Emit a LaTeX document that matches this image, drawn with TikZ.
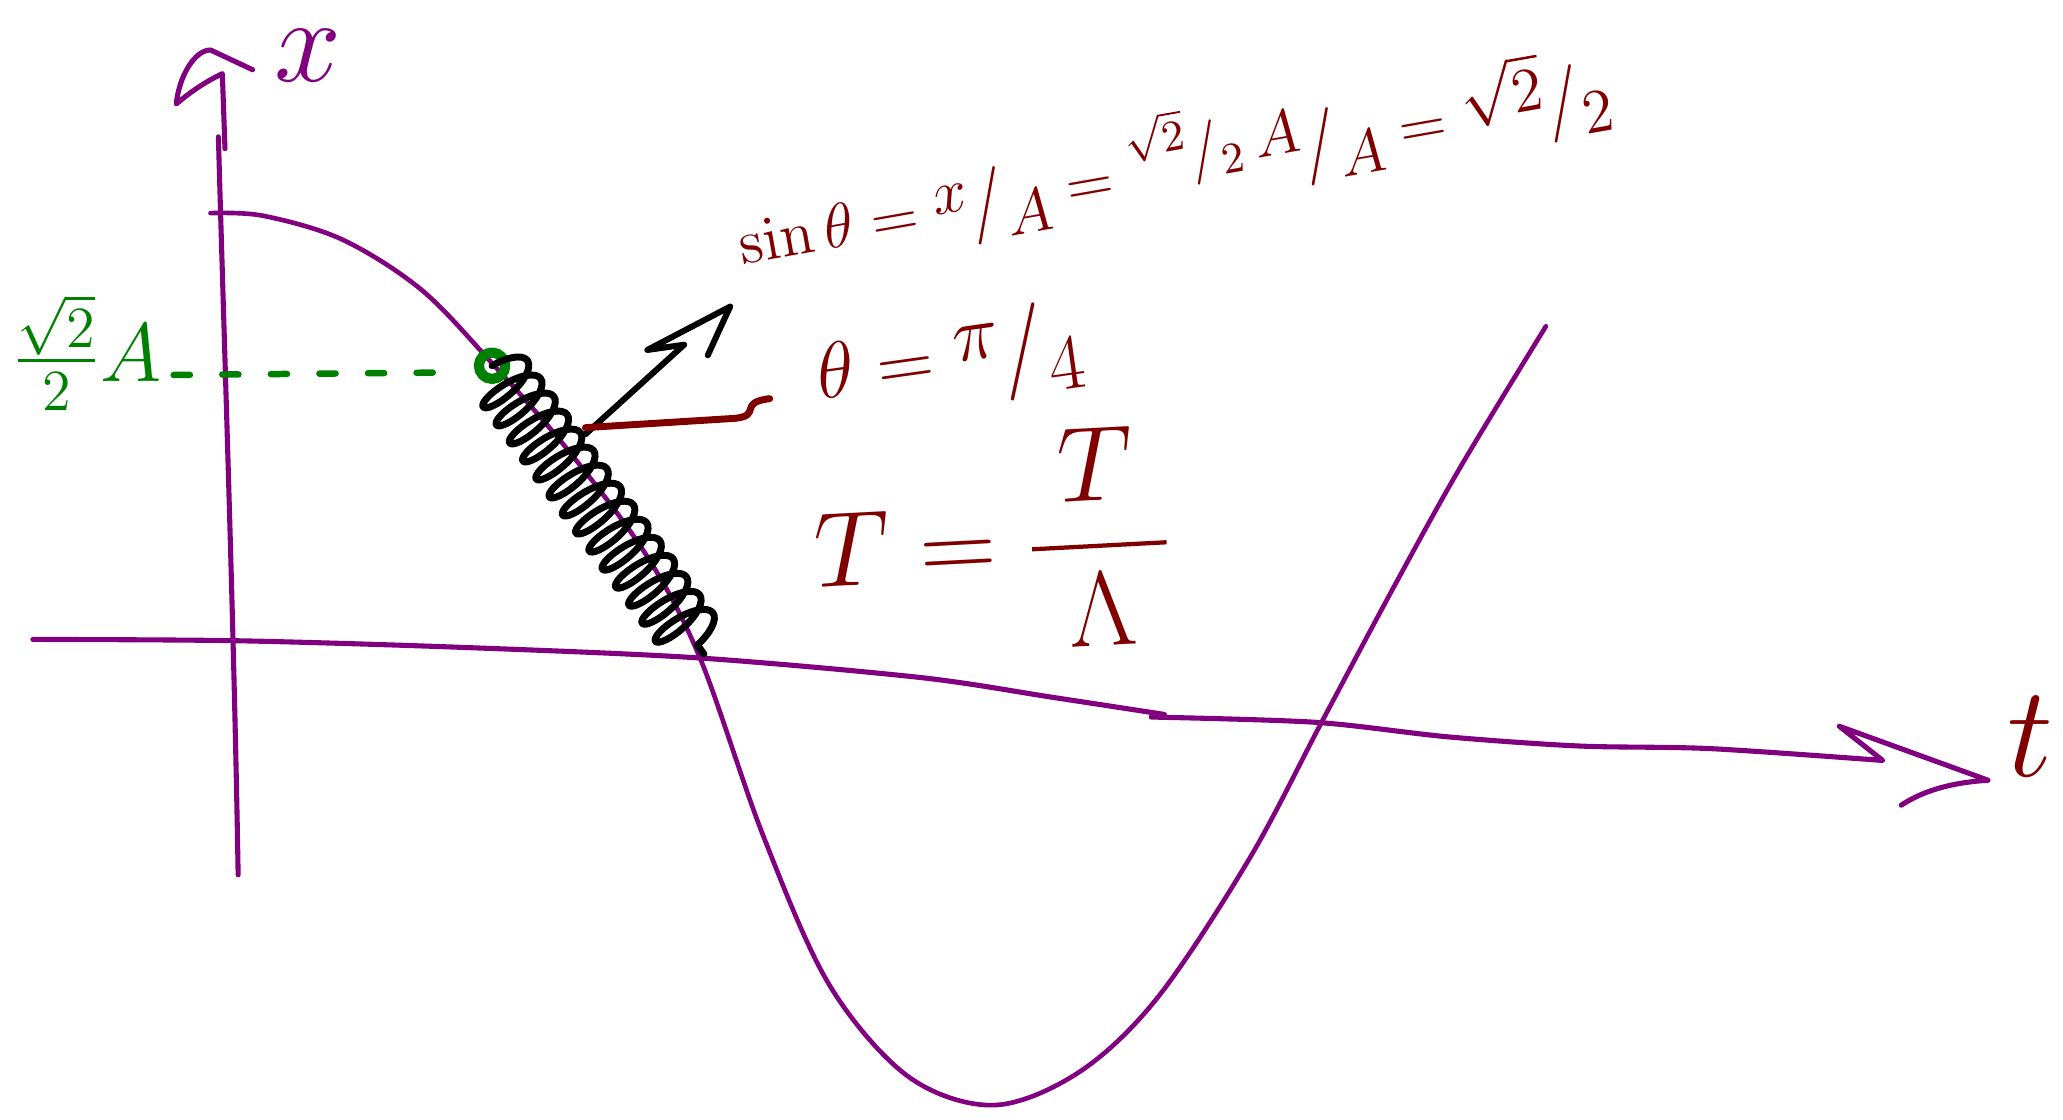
\RequirePackage{fix-cm}
\documentclass[tikz,border=0pt]{standalone}
\usepackage{amsmath,amssymb}
\usetikzlibrary{decorations.pathmorphing}
\definecolor{sketchpurple}{RGB}{128,0,128}
\definecolor{darkred}{RGB}{128,0,0}
\definecolor{sketchgreen}{RGB}{0,128,0}
\newcommand{\slfrac}[2]{\raisebox{0.55ex}{$#1$}\big/\raisebox{-0.7ex}{$#2$}}

\begin{document}
\begin{tikzpicture}[x=0.01cm,y=-0.01cm,line cap=round,line join=round,inner sep=1pt]
        \useasboundingbox (0,0) rectangle (1568,851);
        % axes
        \draw[sketchpurple,line width=1.1pt] (181,665) .. controls (178,480) and (170,250) .. (166,104);
        \draw[sketchpurple,line width=1.1pt] (171,113) -- (169,56) .. controls (152,64) and (140,74) .. (134,79) .. controls (136,58) and (148,38) .. (160,38) -- (192,53);
        \node[sketchpurple,font=\fontsize{26}{28}\selectfont] (xlabel) at (234,42) {$x$};
        \draw[sketchpurple,line width=1.1pt] plot[smooth] coordinates {(25,486) (180,487) (350,492) (530,500) (700,515) (800,530) (885,543)};
        \draw[sketchpurple,line width=1.1pt] plot[smooth] coordinates {(875,545) (1000,549) (1100,560) (1200,567) (1300,569) (1431,578)} -- (1398,552) -- (1511,593) .. controls (1482,595) and (1462,601) .. (1445,612);
        \node[darkred,font=\fontsize{28}{30}\selectfont] (tlabel) at (1543,560) {$t$};
        % the curve
        \draw[sketchpurple,line width=1pt] plot[smooth,tension=0.55] coordinates {(160,162) (200,164) (260,182) (320,220) (373,275) (430,340) (490,420) (532,500) (580,635) (630,748) (690,818) (755,840) (820,815) (880,758) (950,652) (1005,548) (1060,445) (1110,355) (1175,248)};
        \coordinate (P) at (374,278);
        \coordinate (Z) at (535,497);
        % amplitude mark
        \draw[sketchgreen,line width=1.4pt,dash pattern=on 3.5pt off 7pt] (132,285) -- (352,283);
        \draw[sketchgreen,line width=2.2pt] (P) circle (10);
        \node[sketchgreen,font=\fontsize{18}{20}\selectfont] (amp) at (66,268) {$\frac{\sqrt{2}}{2}A$};
        % spring and arrows
        \draw[line width=1.5pt,decorate,decoration={coil,amplitude=0.24cm,segment length=0.17cm,aspect=0.35}] (P) -- (Z);
        \draw[line width=1.3pt] (445,330) -- (520,262) -- (492,266) -- (555,233) .. controls (548,248) .. (538,270);
        \draw[darkred,line width=1.5pt] (445,325) -- (558,318) .. controls (580,316) and (560,306) .. (585,303);
        % formulas
        \node[darkred,rotate=10,font=\fontsize{13.5}{16}\selectfont] (sinline) at (892,122) {$\sin\theta=\slfrac{x}{A}=\slfrac{{}^{\sqrt{2}}/{}_{2}\,A}{A}=\slfrac{\sqrt{2}}{2}$};
        \node[darkred,rotate=8,font=\fontsize{17}{20}\selectfont] (thetaline) at (722,275) {$\theta=\slfrac{\pi}{4}$};
        \node[darkred,rotate=3,font=\fontsize{23}{26}\selectfont] (tauline) at (755,412) {$T=\dfrac{\;T\;}{\Lambda}$};
      \end{tikzpicture}
\end{document}
